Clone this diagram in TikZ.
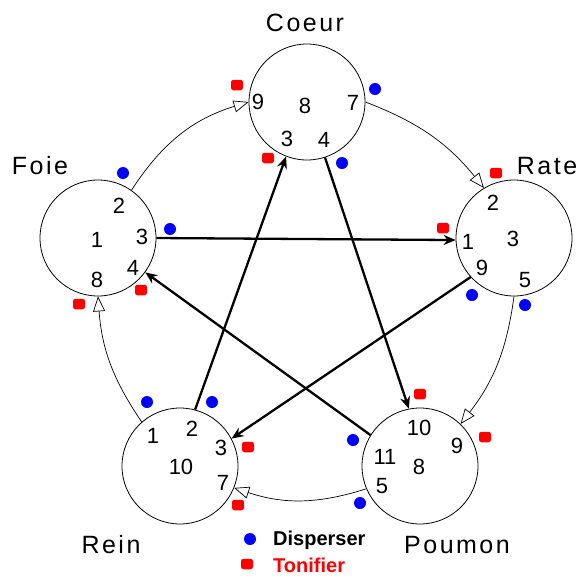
\documentclass[tikz,border=0pt]{standalone}
\usepackage{fontspec}
\setmainfont{Liberation Sans}
\usetikzlibrary{arrows.meta}
\tikzset{
  organ/.style={draw,circle,minimum size=116pt,inner sep=0pt,line width=.8pt},
  num/.style={font=\fontsize{22}{22}\selectfont,inner sep=0pt},
  lbl/.style={font=\fontsize{25}{25}\selectfont\addfontfeatures{LetterSpace=10},inner sep=0pt},
  cyc/.style={-{Triangle[open,length=15pt,width=12pt]},line width=.7pt},
  ctrl/.style={-{Stealth[length=12pt,width=10pt]},line width=2.3pt},
  dis/.style={circle,fill=blue,inner sep=0pt,minimum size=12pt},
  ton/.style={rectangle,rounded corners=2.5pt,fill=red,inner sep=0pt,minimum width=12pt,minimum height=10.5pt},
  leg/.style={font=\fontsize{20}{20}\selectfont\bfseries,inner sep=0pt,anchor=west}
}
\begin{document}
\begin{tikzpicture}[x=1pt,y=-1pt]
\useasboundingbox (0,0) rectangle (581,576);
% organes
\node[organ] (coeur) at (307,102) {};
\node[organ] (foie) at (98,238) {};
\node[organ] (rate) at (514,238) {};
\node[organ] (rein) at (180,466) {};
\node[organ] (poumon) at (420,466) {};
\node[lbl] (lcoeur) at (305,23) {Coeur};
\node[lbl] (lfoie) at (40,166) {Foie};
\node[lbl] (lrate) at (547,166) {Rate};
\node[lbl] (lrein) at (111,545) {Rein};
\node[lbl] (lpoumon) at (457,545) {Poumon};
% points
\foreach \t/\x/\y in {9/258/102,8/305/106,7/353/103,3/287/139,4/324/140}
  \node[num] (coeur-\t) at (\x,\y) {\t};
\foreach \t/\x/\y in {2/119/206,1/97/240,3/142/237,4/133/268,8/97/280}
  \node[num] (foie-\t) at (\x,\y) {\t};
\foreach \t/\x/\y in {2/493/203,1/468/242,3/513/239,9/482/268,5/525/280}
  \node[num] (rate-\t) at (\x,\y) {\t};
\foreach \t/\x/\y in {1/153/436,2/192/429,3/221/448,10/181/467,7/223/483}
  \node[num] (rein-\t) at (\x,\y) {\t};
\foreach \t/\x/\y in {10/419/428,9/457/446,11/385/457,8/419/467,5/382/486}
  \node[num] (poumon-\t) at (\x,\y) {\t};
% cycle
\draw[cyc] (foie.55) to[bend left=20] (coeur.180);
\draw[cyc] (coeur.0) to[bend left=15] (rate.121);
\draw[cyc] (rate.-90) to[bend left=15] (poumon.46);
\draw[cyc] (poumon.203) to[bend left=18] (rein.-22);
\draw[cyc] (rein.131) to[bend left=15] (foie.-90);
% controle
\draw[ctrl] (foie.0) -- (rate.182);
\draw[ctrl] (coeur.-72) -- (poumon.101);
\draw[ctrl] (rate.-138) -- (rein.28);
\draw[ctrl] (poumon.148) -- (foie.-36);
\draw[ctrl] (rein.75) -- (coeur.-111);
% marques
\foreach \x/\y [count=\i] in {375/89,342/163,123/173,170/229,472/295,525/305,147/402,212/402,353/440,360/503}
  \node[dis] (d\i) at (\x,\y) {};
\foreach \x/\y [count=\i] in {237/85,268/158,141/290,79/304,496/173,443/228,248/447,238/505,420/394,485/437}
  \node[ton] (t\i) at (\x,\y) {};
% legende
\node[dis] (dleg) at (250,539) {};
\node[ton] (tleg) at (247,564) {};
\node[leg] (ldis) at (273,540) {Disperser};
\node[leg,text=red] (lton) at (273,565) {Tonifier};
\end{tikzpicture}
\end{document}
